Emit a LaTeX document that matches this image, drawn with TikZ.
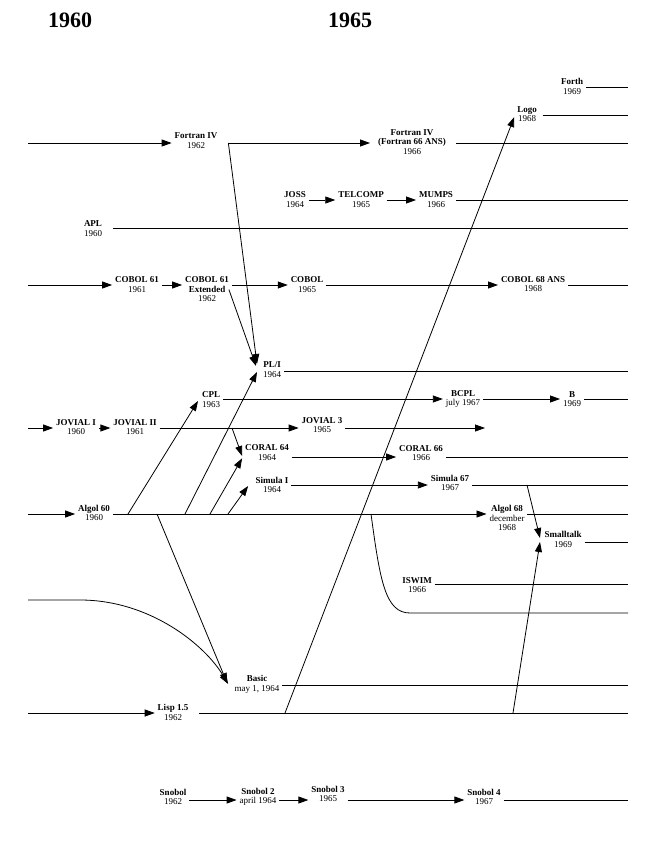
\documentclass[tikz,border=0pt]{standalone}
\usepackage{fontspec}
\setmainfont{Liberation Serif}
\usetikzlibrary{arrows.meta,calc}
\begin{document}
\begin{tikzpicture}[x=1pt,y=-1pt,
  lang/.style={align=center, inner xsep=3pt, inner ysep=1pt, outer sep=0pt, font=\fontsize{9}{9.5}\selectfont},
  ln/.style={line width=0.8pt},
  arr/.style={ln, -{Triangle[length=10pt,width=7pt]}},
  yr/.style={font=\fontsize{22}{24}\selectfont\bfseries, inner sep=0pt}]
\useasboundingbox (0,0) rectangle (655,848);

% year headers
\node[yr] (y1960) at (70,20) {1960};
\node[yr] (y1965) at (350,20) {1965};

% row coordinates (free ends and branch points)
\coordinate (forthE) at (628,87);
\coordinate (logoE) at (628,115);
\coordinate (fortS) at (28,143);  \coordinate (fortE) at (628,143);
\coordinate (jossE) at (628,200);
\coordinate (aplE) at (628,228);
\coordinate (cobS) at (28,285);   \coordinate (cobE) at (628,285);
\coordinate (pliE) at (628,371);
\coordinate (cplE) at (628,399);
\coordinate (jovS) at (28,428);   \coordinate (jovE) at (485,428); \coordinate (jovB) at (232,428);
\coordinate (corE) at (628,457);
\coordinate (simE) at (628,485);  \coordinate (simB) at (527,485);
\coordinate (algS) at (28,514);   \coordinate (algE) at (628,514);
\coordinate (algB1) at (128,514); \coordinate (algB2) at (157,514);
\coordinate (algB3) at (185,514); \coordinate (algB4) at (210,514);
\coordinate (algB5) at (228,514); \coordinate (algB6) at (371,514);
\coordinate (smE) at (628,542);
\coordinate (iswE) at (628,584);
\coordinate (lowK) at (410,613);  \coordinate (lowE) at (628,613);
\coordinate (curS) at (28,600);   \coordinate (curK) at (80,600);
\coordinate (basE) at (628,685);
\coordinate (lispS) at (28,713);  \coordinate (lispE) at (628,713);
\coordinate (lispB1) at (285,713); \coordinate (lispB2) at (513,713);
\coordinate (snoE) at (628,800);

% language nodes
\node[lang] (forth) at (572,86.5) {\textbf{Forth}\\1969};
\node[lang] (logo) at (527,114) {\textbf{Logo}\\1968};
\node[lang] (fortran4) at (196,140.5) {\textbf{Fortran IV}\\1962};
\node[lang] (fortran66) at (412,142) {\textbf{Fortran IV}\\\textbf{(Fortran 66 ANS)}\\1966};
\node[lang] (joss) at (295,199.5) {\textbf{JOSS}\\1964};
\node[lang] (telcomp) at (361,199.5) {\textbf{TELCOMP}\\1965};
\node[lang] (mumps) at (436,199.5) {\textbf{MUMPS}\\1966};
\node[lang] (apl) at (93,228.5) {\textbf{APL}\\1960};
\node[lang] (cobol61) at (137,284.5) {\textbf{COBOL 61}\\1961};
\node[lang] (cobolext) at (207,289.5) {\textbf{COBOL 61}\\\textbf{Extended}\\1962};
\node[lang] (cobol65) at (307,284.5) {\textbf{COBOL}\\1965};
\node[lang] (cobol68) at (533,284) {\textbf{COBOL 68 ANS}\\1968};
\node[lang] (pli) at (272,369.5) {\textbf{PL/I}\\1964};
\node[lang] (cpl) at (211,399.5) {\textbf{CPL}\\1963};
\node[lang] (bcpl) at (463,399) {\textbf{BCPL}\\july 1967};
\node[lang] (b) at (572,399) {\textbf{B}\\1969};
\node[lang] (jovial1) at (76,427) {\textbf{JOVIAL I}\\1960};
\node[lang] (jovial2) at (135,427) {\textbf{JOVIAL II}\\1961};
\node[lang] (jovial3) at (322,425) {\textbf{JOVIAL 3}\\1965};
\node[lang] (coral64) at (267,452.5) {\textbf{CORAL 64}\\1964};
\node[lang] (coral66) at (421,453) {\textbf{CORAL 66}\\1966};
\node[lang] (simula1) at (272,485) {\textbf{Simula I}\\1964};
\node[lang] (simula67) at (450,483) {\textbf{Simula 67}\\1967};
\node[lang] (algol60) at (94,513) {\textbf{Algol 60}\\1960};
\node[lang] (algol68) at (507,518) {\textbf{Algol 68}\\december\\1968};
\node[lang] (smalltalk) at (563,539.5) {\textbf{Smalltalk}\\1969};
\node[lang] (iswim) at (417,585) {\textbf{ISWIM}\\1966};
\node[lang] (basic) at (257,684.5) {\textbf{Basic}\\may 1, 1964};
\node[lang] (lisp) at (173,712.5) {\textbf{Lisp 1.5}\\1962};
\node[lang] (snobol) at (173,797) {\textbf{Snobol}\\1962};
\node[lang] (snobol2) at (258,797) {\textbf{Snobol 2}\\april 1964};
\node[lang] (snobol3) at (328,794) {\textbf{Snobol 3}\\1965};
\node[lang] (snobol4) at (484,797) {\textbf{Snobol 4}\\1967};

% Forth, Logo
\draw[ln] (forth.east |- forthE) -- (forthE);
\draw[ln] ($(logo.east |- logoE)+(3,0)$) -- (logoE);

% Fortran
\draw[arr] (fortS) -- (fortran4.west |- fortS);
\draw[arr] ($(fortran4.east |- fortS)+(8,0)$) -- ($(fortran66.west |- fortS)+(-5,0)$);
\draw[ln] ($(fortran66.east |- fortE)+(7,0)$) -- (fortE);
\draw[arr] ($(fortran4.east |- fortS)+(8,0)$) -- ($(pli.west)+(-3,-5.5)$);

% JOSS
\draw[arr] (joss.east |- jossE) -- (telcomp.west |- jossE);
\draw[arr] (telcomp.east |- jossE) -- (mumps.west |- jossE);
\draw[ln] (mumps.east |- jossE) -- (jossE);

% APL
\draw[ln] ($(apl.east |- aplE)+(8,0)$) -- (aplE);

% COBOL
\draw[arr] (cobS) -- (cobol61.west |- cobS);
\draw[arr] (cobol61.east |- cobS) -- (cobolext.west |- cobS);
\draw[arr] (cobolext.east |- cobS) -- (cobol65.west |- cobS);
\draw[arr] (cobol65.east |- cobS) -- (cobol68.west |- cobS);
\draw[ln] (cobol68.east |- cobE) -- (cobE);
\draw[arr] ($(cobolext.east)+(-3,0)$) -- ($(pli.west)+(-4,-3.5)$);

% PL/I
\draw[ln] (pli.east |- pliE) -- (pliE);

% CPL
\draw[arr] (cpl.east |- cplE) -- (bcpl.west |- cplE);
\draw[arr] (bcpl.east |- cplE) -- (b.west |- cplE);
\draw[ln] (b.east |- cplE) -- (cplE);

% JOVIAL
\draw[arr] (jovS) -- (jovial1.west |- jovS);
\draw[arr] (jovial1.east |- jovS) -- (jovial2.west |- jovS);
\draw[arr] (jovial2.east |- jovS) -- (jovial3.west |- jovS);
\draw[arr] (jovial3.east |- jovE) -- (jovE);
\draw[arr] (jovB) -- ($(coral64.west)+(0,3.5)$);

% CORAL
\draw[arr] (coral64.east |- corE) -- (coral66.west |- corE);
\draw[ln] (coral66.east |- corE) -- (corE);

% Simula
\draw[arr] (simula1.east |- simE) -- (simula67.west |- simE);
\draw[ln] (simula67.east |- simE) -- (simE);
\draw[arr] (simB) -- ($(smalltalk.west)+(-1.5,-1.5)$);

% Algol
\draw[arr] (algS) -- (algol60.west |- algS);
\draw[arr] (algol60.east |- algS) -- (algol68.west |- algS);
\draw[ln] (algol68.east |- algE) -- (algE);
\draw[arr] (algB1) -- ($(cpl.west)+(-1,1.5)$);
\draw[arr] (algB2) -- ($(basic.west)+(-4.5,-1.5)$);
\draw[arr] (algB3) -- ($(pli.west)+(-3,2.5)$);
\draw[arr] (algB4) -- ($(coral64.west)+(0,5.8)$);
\draw[arr] (algB5) -- ($(simula1.west)+(-4.5,1)$);
\draw[ln] (algB6) .. controls (380,580) and (385,613) .. (lowK) -- (lowE);

% Smalltalk, ISWIM
\draw[ln] (smalltalk.east |- smE) -- (smE);
\draw[ln] (iswim.east |- iswE) -- (iswE);

% Basic
\draw[arr] (curS) -- (curK) .. controls (150,600) and (205,645) .. ($(basic.west)+(-3.5,-0.5)$);
\draw[ln] (basic.east |- basE) -- (basE);

% Lisp
\draw[arr] (lispS) -- (lisp.west |- lispS);
\draw[ln] ($(lisp.east |- lispE)+(8,0)$) -- (lispE);
\draw[arr] (lispB1) -- ($(logo.west)+(0,3)$);
\draw[arr] (lispB2) -- ($(smalltalk.west)+(-1.5,2.5)$);

% Snobol
\draw[arr] (snobol.east |- snoE) -- (snobol2.west |- snoE);
\draw[arr] (snobol2.east |- snoE) -- (snobol3.west |- snoE);
\draw[arr] (snobol3.east |- snoE) -- (snobol4.west |- snoE);
\draw[ln] (snobol4.east |- snoE) -- (snoE);
\end{tikzpicture}
\end{document}
